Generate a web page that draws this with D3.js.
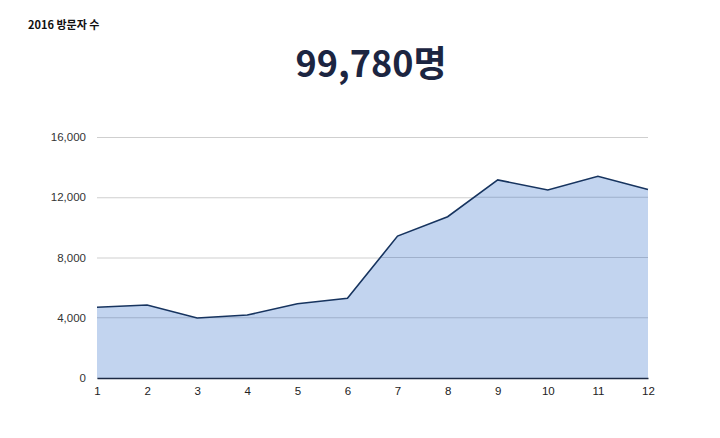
<!DOCTYPE html>
<html><head><meta charset="utf-8">
<script src="https://cdn.jsdelivr.net/npm/d3@7"></script>
<style>body{margin:0;background:#fff}svg{display:block}</style>
</head><body>
<svg id="c" width="720" height="438"></svg>
<script>
const months = [1,2,3,4,5,6,7,8,9,10,11,12];
const visitors = [4700,4850,3980,4180,4930,5290,9420,10710,13150,12480,13390,12520];
const yTicks = [0,4000,8000,12000,16000];
const subtitle = "2016 방문자 수";
const total = "99,780명";

const svg = d3.select("#c");
const x = d3.scaleLinear().domain([1,12]).range([97,648]);
const y = d3.scaleLinear().domain([0,16000]).range([378,137]);

svg.append("text").attr("x",28).attr("y",29)
  .attr("font-family","'Noto Sans CJK KR','Noto Sans',sans-serif")
  .attr("font-weight","700").attr("font-size",11).attr("fill","#111").text(subtitle);
svg.append("text").attr("x",371).attr("y",77).attr("text-anchor","middle")
  .attr("font-family","'Noto Sans CJK KR','Noto Sans',sans-serif")
  .attr("font-weight","700").attr("font-size",36).attr("fill","#1c2541").text(total);

const yAxis = svg.append("g").attr("transform","translate(97,0)")
  .call(d3.axisLeft(y).tickValues(yTicks).tickSize(-551).tickPadding(11).tickFormat(d3.format(",")));
yAxis.select(".domain").remove();
yAxis.selectAll("line").attr("stroke","#cfcfcf");
yAxis.selectAll("text").attr("font-family","'Liberation Sans',Arial,sans-serif").attr("font-size",11.5).attr("fill","#333");

const area = d3.area().x((d,i)=>x(months[i])).y0(y(0)).y1(d=>y(d));
const line = d3.line().x((d,i)=>x(months[i])).y(d=>y(d));
svg.append("defs").append("clipPath").attr("id","ac").append("path").datum(visitors).attr("d",area);
svg.append("path").datum(visitors).attr("d",area).attr("fill","#c2d4ef");
svg.append("g").attr("clip-path","url(#ac)").selectAll("line").data(yTicks.slice(1)).join("line")
  .attr("x1",97).attr("x2",648).attr("y1",d=>y(d)).attr("y2",d=>y(d))
  .attr("stroke","#9fb0cb").attr("stroke-width",1);
svg.append("path").datum(visitors).attr("d",line).attr("fill","none").attr("stroke","#17345f").attr("stroke-width",1.6);

const xAxis = svg.append("g").attr("transform","translate(0,378)")
  .call(d3.axisBottom(x).tickValues(months).tickSize(0).tickPadding(9).tickFormat(d3.format("d")));
xAxis.select(".domain").attr("stroke","#1c2a44").attr("stroke-width",1.5);
xAxis.selectAll("text").attr("font-family","'Liberation Sans',Arial,sans-serif").attr("font-size",11.5).attr("fill","#222");
</script>
</body></html>
